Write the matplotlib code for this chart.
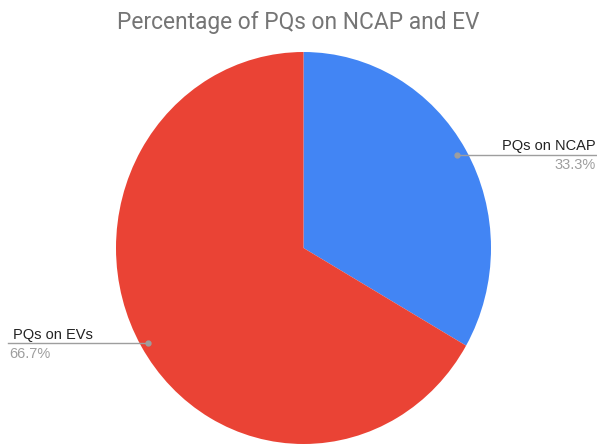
import matplotlib
matplotlib.use("Agg")
import matplotlib.pyplot as plt
from matplotlib.lines import Line2D

title = "Percentage of PQs on NCAP and EV"
categories = ["PQs on NCAP", "PQs on EVs"]
values = [33.3, 66.7]
pct_labels = ["33.3%", "66.7%"]
colors = ["#4285F4", "#EA4335"]

W, H = 597, 444
fig = plt.figure(figsize=(W / 100, H / 100), dpi=100)
plt.rcParams['font.family'] = ['Roboto', 'DejaVu Sans']
lab_font = ['Liberation Sans', 'DejaVu Sans']

# pie geometry in pixels (slightly taller than wide, like the reference)
cx, cy, rx, ry = 303.5, 248, 187.5, 196
ax = fig.add_axes([0, 0, 1, 1])
ax.pie(values, colors=colors, startangle=90, counterclock=False,
       radius=1, center=(0, 0), wedgeprops=dict(linewidth=0))
ax.set_aspect('auto')
ax.set_xlim(-cx / rx, (W - cx) / rx)
ax.set_ylim((cy - H) / ry, cy / ry)
ax.axis('off')

def fx(px):
    return px / W

def fy(py):
    return 1 - py / H

fig.text(fx(298), fy(22), title, ha='center', va='center',
         fontsize=16.4, color='#757575')

lc = '#9e9e9e'
# right label (NCAP)
fig.add_artist(Line2D([fx(457), fx(597)], [fy(155), fy(155)], color=lc, lw=1))
fig.add_artist(Line2D([fx(457)], [fy(155)], marker='o', ms=3.5, color=lc, mec=lc))
fig.text(fx(596), fy(150), categories[0], ha='right', va='baseline',
         fontsize=10.5, color='#222222', family=lab_font)
fig.text(fx(596), fy(169), pct_labels[0], ha='right', va='baseline',
         fontsize=10.5, color='#9e9e9e', family=lab_font)

# left label (EVs)
fig.add_artist(Line2D([fx(8), fx(148)], [fy(343), fy(343)], color=lc, lw=1))
fig.add_artist(Line2D([fx(148)], [fy(343)], marker='o', ms=3.5, color=lc, mec=lc))
fig.text(fx(13), fy(339), categories[1], ha='left', va='baseline',
         fontsize=10.5, color='#222222', family=lab_font)
fig.text(fx(9), fy(358), pct_labels[1], ha='left', va='baseline',
         fontsize=10.5, color='#9e9e9e', family=lab_font)

fig.savefig("out.png", dpi=100)
